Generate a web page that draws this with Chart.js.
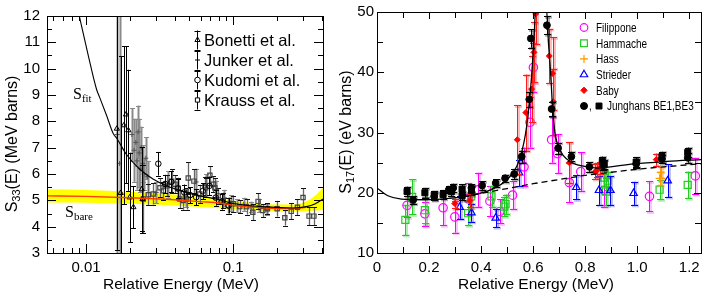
<!DOCTYPE html>
<html>
<head>
<meta charset="utf-8">
<title>S33 and S17 astrophysical S-factors</title>
<script src="https://cdn.jsdelivr.net/npm/chart.js@4.4.1/dist/chart.umd.min.js"></script>
<style>
  html, body { margin: 0; padding: 0; background: #fff; }
  #wrap { position: relative; width: 708px; height: 297px; }
  canvas { position: absolute; top: 0; }
</style>
</head>
<body>
<div id="wrap">
  <canvas id="s33" width="335" height="297" style="left:0"></canvas>
  <canvas id="s17" width="373" height="297" style="left:335px"></canvas>
</div>
<script>
// ---------- left panel: S33(E), log energy axis ----------
const s33XTicks = [0.01, 0.1];
const s33XTickLabels = ['0.01', '0.1'];
const s33XMinor = [0.006, 0.007, 0.008, 0.009, 0.02, 0.03, 0.04, 0.05, 0.06, 0.07, 0.08, 0.09, 0.2, 0.3, 0.4];
const s33YTicks = [3, 4, 5, 6, 7, 8, 9, 10, 11, 12];
const s33YMinor = [3.5, 4.5, 5.5, 6.5, 7.5, 8.5, 9.5, 10.5, 11.5];

const bonettiE = [0.0162, 0.0172, 0.0181, 0.0187, 0.0194, 0.0198, 0.0210, 0.0239, 0.0242];
const bonettiS = [7.72, 5.28, 7.85, 8.26, 7.66, 5.11, 4.74, 5.42, 5.05];
const bonettiErr = [4.6, 5.2, 3.0, 2.6, 2.3, 1.7, 0.8, 1.6, 1.3];

const junkerE = [0.0163, 0.0169, 0.0205, 0.0212, 0.0218, 0.0222, 0.0226, 0.0230, 0.0234, 0.0238, 0.0243, 0.0248, 0.0255, 0.0262,
                 0.0300, 0.0360, 0.0420, 0.0480, 0.0560, 0.0650, 0.0760, 0.0870, 0.0960, 0.1070, 0.1180, 0.1320, 0.1500, 0.1700];
const junkerS = [7.5, 6.4, 7.5, 6.9, 7.2, 6.5, 7.6, 6.8, 6.2, 7.0, 6.4, 6.0, 6.6, 5.9,
                 5.3, 5.6, 5.4, 5.1, 5.7, 5.6, 5.4, 5.1, 4.9, 4.8, 4.85, 4.75, 4.8, 4.65];
const junkerErr = [9, 9, 1.0, 1.2, 0.9, 1.1, 1.0, 1.3, 0.9, 0.8, 0.7, 0.6, 0.8, 0.6,
                   0.4, 0.5, 0.4, 0.35, 0.5, 0.4, 0.35, 0.3, 0.3, 0.25, 0.25, 0.2, 0.25, 0.2];

const kudomiE = [0.0310, 0.0345, 0.0380, 0.0420, 0.0465, 0.0510, 0.0560, 0.0620, 0.0690, 0.0760, 0.0840, 0.0930];
const kudomiS = [6.39, 5.62, 5.70, 5.45, 5.30, 5.20, 5.12, 5.35, 5.55, 5.10, 4.95, 4.80];
const kudomiErr = [0.45, 0.35, 0.4, 0.35, 0.3, 0.3, 0.3, 0.3, 0.35, 0.3, 0.3, 0.3];

const kraussE = [0.0245, 0.0265, 0.0286, 0.0318, 0.0336, 0.0355, 0.0382, 0.0402, 0.0424, 0.0434, 0.0457, 0.0483, 0.0495,
                 0.0541, 0.0594, 0.0643, 0.0650, 0.0695, 0.0731, 0.0751, 0.0792, 0.0857, 0.0926, 0.1000, 0.1110, 0.1233,
                 0.1360, 0.1477, 0.1590, 0.1710, 0.1990, 0.2245, 0.2480, 0.2735, 0.2985, 0.3280, 0.3540];
const kraussS = [5.05, 5.21, 5.24, 5.48, 5.36, 5.55, 5.73, 5.61, 5.46, 5.05, 4.99, 5.05, 5.85,
                 5.73, 5.24, 5.55, 5.48, 5.95, 5.61, 5.48, 5.17, 4.99, 4.80, 4.87, 4.76, 4.76,
                 4.55, 4.96, 4.61, 4.68, 4.68, 4.34, 4.58, 4.74, 5.11, 4.40, 4.40];
const kraussErr = [1.3, 0.4, 0.4, 0.35, 0.35, 0.4, 0.45, 0.35, 0.4, 0.35, 0.35, 0.4, 0.6,
                   0.45, 0.35, 0.35, 0.35, 0.35, 0.3, 0.35, 0.3, 0.3, 0.3, 0.3, 0.25, 0.3,
                   0.3, 0.3, 0.25, 0.2, 0.3, 0.3, 0.3, 0.3, 0.35, 0.35, 0.35];

// screened fit, bare S-factor and its uncertainty band
const fitE = [0.0090, 0.0104, 0.0118, 0.0124, 0.0138, 0.0153, 0.0162, 0.0189, 0.0233, 0.0287, 0.0353, 0.0458,
              0.0594, 0.0771, 0.1000, 0.1687, 0.2550, 0.3150, 0.3590, 0.4080];
const fitS = [12.0, 10.46, 9.21, 8.90, 8.22, 7.54, 7.35, 6.73, 6.17, 5.80, 5.55, 5.33,
              5.17, 5.05, 4.88, 4.75, 4.71, 4.76, 4.86, 5.05];
const bareE = [0.0054, 0.0100, 0.0200, 0.0400, 0.0594, 0.0810, 0.1000, 0.1690, 0.2550, 0.3150];
const bareS = [5.17, 5.15, 5.10, 5.02, 4.95, 4.90, 4.81, 4.71, 4.69, 4.74];
const bandE = [0.0054, 0.0100, 0.0200, 0.0400, 0.0700, 0.1000, 0.1500, 0.2000, 0.2500, 0.3000, 0.3500, 0.4080];
const bandLo = [4.92, 4.91, 4.87, 4.80, 4.72, 4.66, 4.61, 4.59, 4.58, 4.58, 4.60, 4.63];
const bandHi = [5.42, 5.39, 5.33, 5.22, 5.10, 4.97, 4.88, 4.84, 4.84, 4.92, 5.12, 5.48];

// ---------- right panel: S17(E), linear energy axis ----------
const s17XTicks = [0, 0.2, 0.4, 0.6, 0.8, 1.0, 1.2];
const s17XTickLabels = ['0', '0.2', '0.4', '0.6', '0.8', '1.0', '1.2'];
const s17XMinor = [0.1, 0.3, 0.5, 0.7, 0.9, 1.1];
const s17YTicks = [10, 20, 30, 40, 50];
const s17YMinor = [15, 25, 35, 45];

const filipponeE = [0.1155, 0.184, 0.254, 0.299, 0.350, 0.389, 0.434, 0.472, 0.521, 0.565, 0.588, 0.601, 0.671, 0.694,
                    0.739, 0.783, 0.873, 1.047, 1.223];
const filipponeS = [17.9, 16.5, 17.5, 16.0, 19.0, 20.5, 18.6, 16.9, 19.6, 24.3, 31.7, 40.8, 28.8, 26.5,
                    21.7, 23.5, 20.4, 19.4, 22.8];
const filipponeErr = [2.0, 2.0, 2.9, 2.6, 2.6, 2.8, 2.5, 2.0, 2.3, 3.2, 4.2, 4.0, 3.8, 3.2,
                      3.3, 3.2, 2.7, 2.5, 3.0];

const hammacheE = [0.109, 0.135, 0.184, 0.350, 0.362, 0.440, 0.489, 0.494, 0.873, 0.880, 0.886, 1.086, 1.194];
const hammacheS = [15.5, 19.3, 17.1, 16.6, 19.4, 19.4, 17.7, 18.1, 22.5, 20.2, 22.0, 20.5, 21.3];
const hammacheErr = [2.5, 2.9, 2.2, 2.0, 1.8, 1.7, 1.6, 1.6, 1.3, 2.3, 1.5, 1.6, 2.2];

const hassE = [1.086, 1.090];
const hassS = [22.4, 23.4];
const hassErr = [1.1, 0.9];

const striederE = [0.318, 0.363, 0.456, 0.546, 0.766, 0.853, 0.897, 0.986, 1.117];
const striederS = [17.6, 16.7, 15.8, 23.3, 20.9, 20.4, 20.4, 19.9, 22.0];
const striederErr = [1.9, 1.5, 1.5, 2.2, 2.0, 2.4, 2.4, 1.9, 2.7];

const babyE = [0.299, 0.357, 0.539, 0.572, 0.594, 0.603, 0.610, 0.662, 0.675, 0.677, 0.739, 0.838, 0.847, 0.856, 1.073];
const babyS = [18.2, 18.7, 28.8, 33.3, 37.2, 43.3, 49.7, 42.7, 39.8, 35.1, 25.0, 23.5, 23.8, 24.1, 25.5];
const babyErr = [0.8, 1.1, 5.7, 6.3, 5.5, 5.0, 5.0, 4.5, 6.0, 5.5, 3.4, 1.2, 1.2, 1.0, 1.0];

const be1E = [0.139, 0.220, 0.276, 0.293, 0.363, 0.404, 0.456, 0.492, 0.527, 0.556, 0.585, 0.591, 0.653, 0.671,
              0.696, 0.747, 0.816, 0.870, 0.996, 1.095, 1.194];
const be1S = [18.8, 19.4, 20.5, 20.8, 20.8, 21.2, 21.6, 22.4, 23.1, 26.0, 35.5, 45.6, 47.8, 33.9,
              27.4, 26.0, 24.3, 24.6, 24.8, 25.6, 25.8];
const be1Err = [0.6, 0.6, 0.6, 0.7, 0.6, 0.7, 0.6, 0.6, 0.8, 1.0, 1.2, 1.5, 1.5, 1.2,
                0.9, 0.8, 0.8, 0.8, 0.7, 0.7, 0.8];

const be3E = [0.1155, 0.184, 0.220, 0.254, 0.286, 0.327, 0.327, 0.363, 0.866, 0.873, 0.996, 1.095, 1.194];
const be3S = [20.2, 20.0, 19.6, 19.7, 20.2, 20.6, 19.5, 20.4, 25.2, 24.7, 25.1, 26.0, 26.7];
const be3Err = [0.8, 0.8, 0.7, 0.7, 0.8, 0.8, 0.7, 0.8, 0.8, 0.8, 0.8, 0.8, 0.8];

// total fit with the 1+ resonance, and the non-resonant part (dashed)
const resE = [0.000, 0.042, 0.094, 0.184, 0.286, 0.376, 0.453, 0.511, 0.549, 0.575, 0.594, 0.605, 0.610,
              0.650, 0.659, 0.668, 0.675, 0.684, 0.703, 0.742, 0.793, 0.845, 0.986, 1.114, 1.245];
const resS = [20.8, 19.5, 18.95, 18.84, 19.1, 19.7, 20.8, 22.7, 25.7, 31.0, 39.3, 47.0, 51.0,
              51.0, 44.8, 39.3, 33.8, 29.9, 27.1, 25.2, 24.4, 24.1, 24.8, 25.2, 25.5];
const directE = [0.33, 0.40, 0.50, 0.60, 0.70, 0.80, 0.90, 1.00, 1.10, 1.245];
const directS = [19.3, 19.9, 20.7, 21.5, 22.2, 22.9, 23.4, 23.9, 24.3, 24.8];

// ---------- helpers ----------
const SANS = '"Liberation Sans", Arial, sans-serif';
const SERIF = '"Liberation Serif", "DejaVu Serif", serif';
const drawPoint = Chart.helpers.drawPoint;
const CLEAR = 'rgba(0,0,0,0)';

function pts(xs, ys) {
    return xs.map((x, i) => ({ x: x, y: ys[i] }));
}

function seg(ctx, x1, y1, x2, y2) {
    ctx.beginPath();
    ctx.moveTo(x1, y1);
    ctx.lineTo(x2, y2);
    ctx.stroke();
}

// vertical error bars, drawn just under each dataset's markers
const errorBars = {
    id: 'errorBars',
    beforeDatasetDraw(chart, args) {
        const ds = chart.data.datasets[args.index];
        if (!ds.errors) return;
        const ctx = chart.ctx, a = chart.chartArea, ys = chart.scales.y, st = ds.errStyle;
        ctx.save();
        ctx.beginPath();
        ctx.rect(a.left, a.top, a.right - a.left, a.bottom - a.top);
        ctx.clip();
        args.meta.data.forEach((el, i) => {
            const v = ds.data[i].y, e = ds.errors[i];
            const x = Math.round(el.x) + 0.5;
            const top = ys.getPixelForValue(v + e);
            const bot = ys.getPixelForValue(v - e);
            const c = st.cap;
            if (st.under) {
                ctx.strokeStyle = st.under;
                ctx.lineWidth = st.underWidth;
                seg(ctx, x + 1, top + 1, x + 1, bot + 1);
                seg(ctx, x + 1 - c, top + 1, x + 1 + c, top + 1);
                seg(ctx, x + 1 - c, bot + 1, x + 1 + c, bot + 1);
            }
            ctx.strokeStyle = st.color;
            ctx.lineWidth = st.width;
            seg(ctx, x, top, x, bot);
            ctx.strokeStyle = st.capColor || st.color;
            ctx.lineWidth = 1;
            seg(ctx, x - c, Math.round(top) + 0.5, x + c, Math.round(top) + 0.5);
            seg(ctx, x - c, Math.round(bot) + 0.5, x + c, Math.round(bot) + 0.5);
        });
        ctx.restore();
    }
};

// box frame with inward ticks on all four sides
const frameTicks = {
    id: 'frameTicks',
    afterDatasetsDraw(chart, args, opts) {
        if (!opts.x) return;
        const ctx = chart.ctx, a = chart.chartArea, xs = chart.scales.x, ys = chart.scales.y;
        ctx.save();
        ctx.strokeStyle = '#000';
        ctx.lineWidth = 1;
        ctx.strokeRect(Math.round(a.left) + 0.5, Math.round(a.top) + 0.5,
                       Math.round(a.right - a.left), Math.round(a.bottom - a.top));
        opts.x.forEach(([v, len]) => {
            const p = Math.round(xs.getPixelForValue(v)) + 0.5;
            seg(ctx, p, a.bottom, p, a.bottom - len);
            seg(ctx, p, a.top, p, a.top + len);
        });
        opts.y.forEach(([v, len]) => {
            const p = Math.round(ys.getPixelForValue(v)) + 0.5;
            seg(ctx, a.left, p, a.left + len, p);
            seg(ctx, a.right, p, a.right - len, p);
        });
        ctx.restore();
    }
};

// free text pieces (titles with subscripts, curve labels)
const panelText = {
    id: 'panelText',
    afterDraw(chart, args, opts) {
        const ctx = chart.ctx;
        (opts.items || []).forEach(item => {
            ctx.save();
            ctx.translate(item.x, item.y);
            if (item.rot) ctx.rotate(item.rot);
            ctx.fillStyle = '#000';
            ctx.textBaseline = 'alphabetic';
            ctx.textAlign = 'left';
            let w = 0;
            item.parts.forEach(p => { ctx.font = p.font; w += ctx.measureText(p.t).width; });
            let cx = item.center ? -w / 2 : 0;
            item.parts.forEach(p => {
                ctx.font = p.font;
                ctx.fillText(p.t, cx, p.dy || 0);
                cx += ctx.measureText(p.t).width;
            });
            ctx.restore();
        });
    }
};

// legend drawn inside the plot box
const panelLegend = {
    id: 'panelLegend',
    afterDraw(chart, args, opts) {
        if (!opts.rows) return;
        const ctx = chart.ctx;
        const sx = opts.scaleX || 1;
        ctx.save();
        ctx.textBaseline = 'middle';
        ctx.textAlign = 'left';
        opts.rows.forEach((row, i) => {
            const y = opts.y0 + i * opts.dy;
            if (opts.bar) {
                const bx = Math.round(opts.barX) + 0.5;
                ctx.strokeStyle = '#000';
                ctx.lineWidth = 1;
                seg(ctx, bx, y - opts.bar, bx, y + opts.bar);
                seg(ctx, bx - 3, Math.round(y - opts.bar) + 0.5, bx + 3, Math.round(y - opts.bar) + 0.5);
                seg(ctx, bx - 3, Math.round(y + opts.bar) + 0.5, bx + 3, Math.round(y + opts.bar) + 0.5);
            }
            row.marks.forEach(m => {
                ctx.strokeStyle = m.color;
                ctx.fillStyle = m.fill;
                ctx.lineWidth = m.width;
                drawPoint(ctx, { pointStyle: m.style, radius: m.r, rotation: 0, borderWidth: m.width }, m.x, y);
            });
            ctx.fillStyle = '#000';
            ctx.font = opts.font;
            row.texts.forEach(t => {
                ctx.save();
                ctx.translate(t.x, y + 1);
                ctx.scale(sx, 1);
                ctx.fillText(t.t, 0, 0);
                ctx.restore();
            });
        });
        ctx.restore();
    }
};

Chart.register(errorBars, frameTicks, panelText, panelLegend);
Chart.defaults.font.family = SANS;
Chart.defaults.color = '#000';

function fixedTicks(values) {
    return scale => { scale.ticks = values.map(v => ({ value: v })); };
}

function lineSet(xs, ys, color, width, order, extra) {
    return Object.assign({
        type: 'line', data: pts(xs, ys), borderColor: color, borderWidth: width,
        pointRadius: 0, cubicInterpolationMode: 'monotone', fill: false, order: order
    }, extra || {});
}

function pointSet(xs, ys, errs, style, radius, color, fill, width, errStyle, order) {
    return {
        data: pts(xs, ys), errors: errs, errStyle: errStyle,
        pointStyle: style, pointRadius: radius, pointBorderColor: color,
        pointBackgroundColor: fill, pointBorderWidth: width, order: order
    };
}

const baseOptions = {
    responsive: false,
    animation: false,
    devicePixelRatio: 1,
    events: []
};

// ---------- left chart ----------
const leftMinorX = s33XMinor.map(v => [v, 5]).concat(s33XTicks.map(v => [v, 9]));
const leftMinorY = s33YMinor.map(v => [v, 5]).concat(s33YTicks.map(v => [v, 9]));
const grayBar = { color: '#8a8a8a', width: 2, cap: 2.5, capColor: '#8a8a8a' };
const blackBar = { color: '#000', width: 1, cap: 2.5 };
const kraussBar = { color: '#666', width: 1.3, cap: 2.5, capColor: '#111' };

new Chart(document.getElementById('s33'), {
    type: 'scatter',
    data: {
        datasets: [
            lineSet(fitE, fitS, '#000', 1.1, 0),
            lineSet(bareE, bareS, '#ff3b00', 1.4, 1),
            pointSet(bonettiE, bonettiS, bonettiErr, 'triangle', 3, '#000', CLEAR, 1, blackBar, 2),
            pointSet(kudomiE, kudomiS, kudomiErr, 'circle', 2.8, '#000', CLEAR, 1, blackBar, 3),
            pointSet(kraussE, kraussS, kraussErr, 'rect', 3, '#444', CLEAR, 1.2, kraussBar, 4),
            pointSet(junkerE, junkerS, junkerErr, 'cross', 2.5, '#555', CLEAR, 1, grayBar, 5),
            lineSet(bandE, bandHi, CLEAR, 0, 10, { fill: '+1', backgroundColor: '#ffff00' }),
            lineSet(bandE, bandLo, CLEAR, 0, 11)
        ]
    },
    options: Object.assign({}, baseOptions, {
        layout: { padding: { left: 0, top: 12, right: 12, bottom: 0 } },
        scales: {
            x: {
                type: 'logarithmic', min: 0.00543, max: 0.408, position: 'bottom',
                grid: { display: false, drawTicks: false }, border: { display: false },
                ticks: { font: { size: 15 }, padding: 6, maxRotation: 0, autoSkip: false,
                         callback: (v, i) => s33XTickLabels[i] },
                afterBuildTicks: fixedTicks(s33XTicks),
                afterFit: s => { s.height = 44; }
            },
            y: {
                type: 'linear', min: 3, max: 12,
                grid: { display: false, drawTicks: false }, border: { display: false },
                ticks: { font: { size: 15 }, padding: 7 },
                afterBuildTicks: fixedTicks(s33YTicks),
                afterFit: s => { s.width = 47; }
            }
        },
        plugins: {
            legend: { display: false },
            tooltip: { enabled: false },
            frameTicks: { x: leftMinorX, y: leftMinorY },
            panelText: {
                items: [
                    { x: 11, y: 144, rot: -Math.PI / 2, center: true, parts: [
                        { t: 'S', font: '16px ' + SANS, dy: 6 },
                        { t: '33', font: '11px ' + SANS, dy: 9 },
                        { t: '(E) (MeV barns)', font: '16px ' + SANS, dy: 6 }
                    ] },
                    { x: 181, y: 289, center: true, parts: [{ t: 'Relative Energy (MeV)', font: '15.5px ' + SANS }] },
                    { x: 73, y: 99, parts: [
                        { t: 'S', font: '16px ' + SERIF },
                        { t: 'fit', font: '11px ' + SERIF, dy: 3 }
                    ] },
                    { x: 65, y: 217, parts: [
                        { t: 'S', font: '16px ' + SERIF },
                        { t: 'bare', font: '11px ' + SERIF, dy: 3 }
                    ] }
                ]
            },
            panelLegend: {
                y0: 40, dy: 20, bar: 9.5, barX: 197, font: '16.5px ' + SANS,
                rows: [
                    { texts: [{ t: 'Bonetti et al.', x: 204 }], marks: [{ x: 197.5, style: 'triangle', r: 3, color: '#000', fill: CLEAR, width: 1 }] },
                    { texts: [{ t: 'Junker et al.', x: 204 }], marks: [{ x: 197.5, style: 'cross', r: 2.5, color: '#000', fill: CLEAR, width: 1 }] },
                    { texts: [{ t: 'Kudomi et al.', x: 204 }], marks: [{ x: 197.5, style: 'circle', r: 2.8, color: '#000', fill: '#fff', width: 1 }] },
                    { texts: [{ t: 'Krauss et al.', x: 204 }], marks: [{ x: 197.5, style: 'rect', r: 3, color: '#000', fill: '#fff', width: 1 }] }
                ]
            }
        }
    })
});

// ---------- right chart ----------
const rightX = s17XMinor.map(v => [v, 6]).concat(s17XTicks.map(v => [v, 7]));
const rightY = s17YMinor.map(v => [v, 6]).concat(s17YTicks.map(v => [v, 7]));
const magBar = { color: '#ff00ff', width: 1, under: 'rgba(255,80,255,0.35)', underWidth: 3, cap: 3.5 };
const greenBar = { color: '#22cc22', width: 1, under: 'rgba(40,210,40,0.35)', underWidth: 3, cap: 3.5 };
const orangeBar = { color: '#ff9900', width: 1, under: 'rgba(255,160,40,0.4)', underWidth: 3, cap: 3.5 };
const blueBar = { color: '#0000ff', width: 1, under: 'rgba(60,60,255,0.3)', underWidth: 3, cap: 3.5 };
const redBar = { color: '#ff1a1a', width: 1, under: 'rgba(255,60,60,0.35)', underWidth: 3, cap: 3.5 };
const blkBar = { color: '#000', width: 1, under: 'rgba(0,0,0,0.3)', underWidth: 3, cap: 3.5 };

new Chart(document.getElementById('s17'), {
    type: 'scatter',
    data: {
        datasets: [
            lineSet(resE, resS, '#000', 1.3, 0),
            lineSet(directE, directS, '#000', 1.3, 1, { borderDash: [6, 4], cubicInterpolationMode: 'default', tension: 0 }),
            pointSet(be1E, be1S, be1Err, 'circle', 3.4, '#000', '#000', 1, blkBar, 2),
            pointSet(be3E, be3S, be3Err, 'rect', 4.3, '#000', '#000', 1, blkBar, 3),
            pointSet(babyE, babyS, babyErr, 'rectRot', 3, '#ff0000', '#ff0000', 1, redBar, 4),
            pointSet(striederE, striederS, striederErr, 'triangle', 4.3, '#0000ff', CLEAR, 1.2, blueBar, 5),
            pointSet(hassE, hassS, hassErr, 'cross', 4, '#ff9900', CLEAR, 1.2, orangeBar, 6),
            pointSet(hammacheE, hammacheS, hammacheErr, 'rect', 5, '#22cc22', CLEAR, 1.2, greenBar, 7),
            pointSet(filipponeE, filipponeS, filipponeErr, 'circle', 4.2, '#ff00ff', CLEAR, 1.2, magBar, 8)
        ]
    },
    options: Object.assign({}, baseOptions, {
        layout: { padding: { left: 0, top: 12, right: 7, bottom: 0 } },
        scales: {
            x: {
                type: 'linear', min: 0, max: 1.245, position: 'bottom',
                grid: { display: false, drawTicks: false }, border: { display: false },
                ticks: { font: { size: 15 }, padding: 6, maxRotation: 0, autoSkip: false,
                         callback: (v, i) => s17XTickLabels[i] },
                afterBuildTicks: fixedTicks(s17XTicks),
                afterFit: s => { s.height = 44; }
            },
            y: {
                type: 'linear', min: 10, max: 50,
                grid: { display: false, drawTicks: false }, border: { display: false },
                ticks: { font: { size: 15 }, padding: 3 },
                afterBuildTicks: fixedTicks(s17YTicks),
                afterFit: s => { s.width = 42; }
            }
        },
        plugins: {
            legend: { display: false },
            tooltip: { enabled: false },
            frameTicks: { x: rightX, y: rightY },
            panelText: {
                items: [
                    { x: 10, y: 132, rot: -Math.PI / 2, center: true, parts: [
                        { t: 'S', font: '16px ' + SANS, dy: 6 },
                        { t: '17', font: '11px ' + SANS, dy: 9 },
                        { t: '(E) (eV barns)', font: '16px ' + SANS, dy: 6 }
                    ] },
                    { x: 201, y: 289, center: true, parts: [{ t: 'Relative Energy (MeV)', font: '15.5px ' + SANS }] }
                ]
            },
            panelLegend: {
                y0: 27.5, dy: 15.7, font: '12.5px ' + SANS, scaleX: 0.8,
                rows: [
                    { texts: [{ t: 'Filippone', x: 261 }], marks: [{ x: 249, style: 'circle', r: 3.8, color: '#ff00ff', fill: CLEAR, width: 1.2 }] },
                    { texts: [{ t: 'Hammache', x: 261 }], marks: [{ x: 249, style: 'rect', r: 4.8, color: '#22cc22', fill: CLEAR, width: 1.2 }] },
                    { texts: [{ t: 'Hass', x: 261 }], marks: [{ x: 249, style: 'cross', r: 4, color: '#ff9900', fill: CLEAR, width: 1.2 }] },
                    { texts: [{ t: 'Strieder', x: 261 }], marks: [{ x: 249, style: 'triangle', r: 4.3, color: '#0000ff', fill: CLEAR, width: 1.2 }] },
                    { texts: [{ t: 'Baby', x: 261 }], marks: [{ x: 249, style: 'rectRot', r: 3.2, color: '#ff0000', fill: '#ff0000', width: 1 }] },
                    { texts: [{ t: ',', x: 254 }, { t: 'Junghans BE1,BE3', x: 272 }],
                      marks: [{ x: 249, style: 'circle', r: 3.5, color: '#000', fill: '#000', width: 1 },
                              { x: 264, style: 'rect', r: 4.2, color: '#000', fill: '#000', width: 1 }] }
                ]
            }
        }
    })
});
</script>
</body>
</html>
